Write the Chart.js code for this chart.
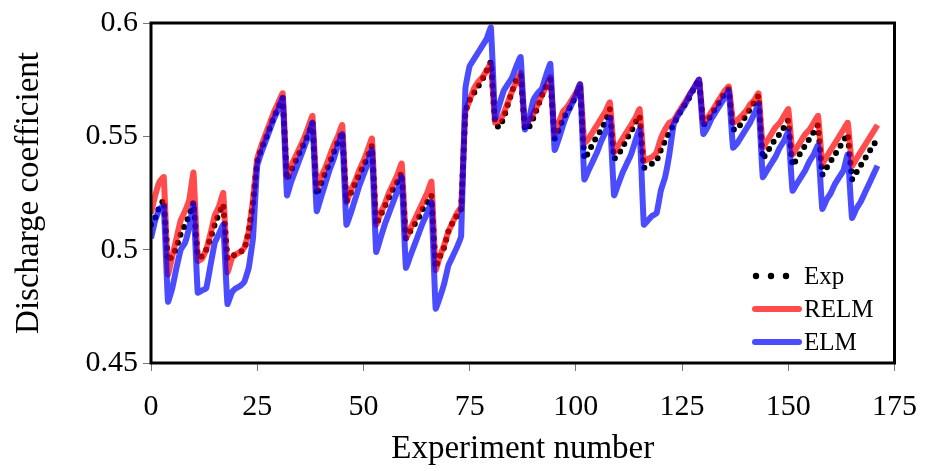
<!DOCTYPE html>
<html>
<head>
<meta charset="utf-8">
<script src="https://cdn.jsdelivr.net/npm/chart.js@4.4.1/dist/chart.umd.min.js"></script>
<style>
  html, body { margin: 0; padding: 0; background: #fff; }
  #wrap { width: 935px; height: 471px; }
</style>
</head>
<body>
<div id="wrap"><canvas id="myChart"></canvas></div>
<script>
// experiment index 0..171
const experiments = Array.from({ length: 172 }, (_, i) => i);

const expValues = [
  0.511, 0.514, 0.519, 0.522,
  0.495, 0.497, 0.501, 0.507, 0.511, 0.515, 0.521,
  0.497, 0.497, 0.500, 0.505, 0.511, 0.516, 0.520,
  0.496, 0.497, 0.498, 0.499, 0.500, 0.508, 0.521,
  0.539, 0.545, 0.549, 0.554, 0.559, 0.563, 0.567,
  0.531, 0.535, 0.539, 0.543, 0.547, 0.551, 0.556,
  0.524, 0.529, 0.534, 0.538, 0.543, 0.548, 0.552,
  0.521, 0.525, 0.529, 0.533, 0.537, 0.541, 0.546,
  0.511, 0.515, 0.519, 0.523, 0.527, 0.530, 0.534,
  0.505, 0.508, 0.511, 0.514, 0.518, 0.521, 0.524,
  0.492, 0.497, 0.501, 0.508, 0.512, 0.515, 0.518,
  0.561, 0.566, 0.569, 0.572, 0.575, 0.579, 0.583,
  0.555, 0.554, 0.558, 0.564, 0.570, 0.575, 0.577,
  0.553, 0.554, 0.558, 0.563, 0.568, 0.572, 0.575,
  0.549, 0.553, 0.558, 0.561, 0.564, 0.568, 0.572,
  0.540, 0.543, 0.547, 0.550, 0.553, 0.557, 0.562,
  0.540, 0.542, 0.545, 0.549, 0.552, 0.556, 0.559,
  0.536, 0.537, 0.538, 0.539, 0.544, 0.548, 0.552,
  0.555, 0.559, 0.562, 0.565, 0.568, 0.572, 0.575,
  0.555, 0.557, 0.560, 0.563, 0.566, 0.569, 0.571,
  0.553, 0.553, 0.556, 0.559, 0.562, 0.565, 0.568,
  0.540, 0.543, 0.546, 0.549, 0.551, 0.554, 0.557,
  0.537, 0.540, 0.543, 0.546, 0.549, 0.552, 0.555,
  0.533, 0.536, 0.539, 0.542, 0.545, 0.548, 0.551,
  0.531, 0.534, 0.537, 0.540, 0.543, 0.546, 0.549
];

const relmValues = [
  0.516, 0.524, 0.530, 0.532,
  0.489, 0.497, 0.505, 0.513, 0.517, 0.522, 0.534,
  0.495, 0.496, 0.500, 0.507, 0.515, 0.519, 0.525,
  0.490, 0.496, 0.498, 0.499, 0.501, 0.508, 0.522,
  0.540, 0.546, 0.551, 0.556, 0.561, 0.565, 0.569,
  0.532, 0.537, 0.541, 0.545, 0.549, 0.554, 0.559,
  0.527, 0.532, 0.536, 0.541, 0.546, 0.550, 0.555,
  0.521, 0.526, 0.530, 0.535, 0.539, 0.544, 0.549,
  0.511, 0.516, 0.520, 0.525, 0.529, 0.533, 0.538,
  0.505, 0.509, 0.513, 0.517, 0.521, 0.525, 0.530,
  0.491, 0.497, 0.502, 0.508, 0.512, 0.516, 0.519,
  0.561, 0.566, 0.571, 0.574, 0.576, 0.579, 0.582,
  0.556, 0.557, 0.560, 0.565, 0.570, 0.574, 0.578,
  0.555, 0.557, 0.560, 0.564, 0.568, 0.572, 0.576,
  0.551, 0.556, 0.561, 0.563, 0.566, 0.569, 0.573,
  0.547, 0.549, 0.552, 0.555, 0.558, 0.561, 0.565,
  0.543, 0.546, 0.549, 0.552, 0.555, 0.558, 0.562,
  0.539, 0.540, 0.541, 0.543, 0.549, 0.553, 0.556,
  0.557, 0.560, 0.563, 0.566, 0.569, 0.572, 0.575,
  0.556, 0.558, 0.561, 0.564, 0.567, 0.570, 0.572,
  0.556, 0.557, 0.559, 0.561, 0.564, 0.566, 0.569,
  0.545, 0.548, 0.551, 0.554, 0.556, 0.559, 0.562,
  0.542, 0.545, 0.548, 0.551, 0.553, 0.556, 0.559,
  0.538, 0.541, 0.544, 0.547, 0.550, 0.553, 0.556,
  0.537, 0.540, 0.543, 0.546, 0.549, 0.552, 0.555
];

const elmValues = [
  0.505, 0.513, 0.518, 0.519,
  0.477, 0.483, 0.492, 0.500, 0.503, 0.510, 0.520,
  0.481, 0.482, 0.483, 0.493, 0.503, 0.507, 0.511,
  0.476, 0.481, 0.483, 0.484, 0.486, 0.492, 0.505,
  0.537, 0.543, 0.548, 0.553, 0.558, 0.562, 0.567,
  0.524, 0.530, 0.535, 0.540, 0.545, 0.550, 0.556,
  0.517, 0.523, 0.529, 0.535, 0.540, 0.546, 0.551,
  0.511, 0.516, 0.522, 0.528, 0.533, 0.538, 0.544,
  0.499, 0.505, 0.511, 0.516, 0.521, 0.526, 0.532,
  0.492, 0.497, 0.502, 0.507, 0.512, 0.516, 0.521,
  0.474, 0.479, 0.485, 0.493, 0.497, 0.501, 0.506,
  0.571, 0.581, 0.584, 0.587, 0.590, 0.593, 0.598,
  0.558, 0.564, 0.570, 0.573, 0.576, 0.581, 0.585,
  0.553, 0.558, 0.566, 0.569, 0.571, 0.577, 0.582,
  0.544, 0.549, 0.555, 0.560, 0.564, 0.568, 0.573,
  0.531, 0.535, 0.539, 0.543, 0.548, 0.552, 0.558,
  0.524, 0.529, 0.534, 0.538, 0.542, 0.548, 0.553,
  0.511, 0.513, 0.515, 0.516, 0.526, 0.532, 0.542,
  0.555, 0.559, 0.562, 0.565, 0.569, 0.572, 0.575,
  0.551, 0.554, 0.558, 0.561, 0.564, 0.567, 0.570,
  0.545, 0.547, 0.550, 0.553, 0.556, 0.560, 0.564,
  0.532, 0.535, 0.538, 0.541, 0.545, 0.548, 0.552,
  0.526, 0.529, 0.532, 0.535, 0.539, 0.542, 0.546,
  0.518, 0.522, 0.525, 0.529, 0.532, 0.535, 0.542,
  0.514, 0.518, 0.521, 0.525, 0.529, 0.533, 0.537
];

const xTicks = [0, 25, 50, 75, 100, 125, 150, 175];
const yTicks = [0.45, 0.5, 0.55, 0.6];

const serif = "'Liberation Serif', 'Times New Roman', serif";

const toPoints = (vals) => vals.map((v, i) => ({ x: experiments[i], y: v }));

// thick box round the plot area
const frame = {
  id: 'frame',
  afterDraw(chart) {
    const { ctx, chartArea: a } = chart;
    ctx.save();
    ctx.strokeStyle = '#000';
    ctx.lineWidth = 3;
    ctx.strokeRect(a.left, a.top, a.right - a.left, a.bottom - a.top);
    ctx.restore();
  }
};

// legend sits inside the plot, bottom right
const innerLegend = {
  id: 'innerLegend',
  afterDraw(chart) {
    const { ctx } = chart;
    const x0 = 755, x1 = 799, rows = [276, 309, 342];
    ctx.save();
    chart.data.datasets.forEach((ds, i) => {
      const y = rows[i];
      if (ds.borderDash) {
        ctx.fillStyle = ds.borderColor;
        [756, 771, 786].forEach(cx => {
          ctx.beginPath();
          ctx.arc(cx, y, 3.2, 0, Math.PI * 2);
          ctx.fill();
        });
      } else {
        ctx.beginPath();
        ctx.strokeStyle = ds.borderColor;
        ctx.lineWidth = ds.borderWidth;
        ctx.lineCap = 'round';
        ctx.moveTo(x0, y); ctx.lineTo(x1, y);
        ctx.stroke();
      }
      ctx.fillStyle = '#000';
      ctx.font = '25px ' + serif;
      ctx.textBaseline = 'middle';
      ctx.fillText(ds.label, 804, y + 1);
    });
    ctx.restore();
  }
};

new Chart(document.getElementById('myChart'), {
  type: 'line',
  data: {
    datasets: [{
      label: 'Exp',
      data: toPoints(expValues),
      borderColor: '#000',
      borderWidth: 6,
      borderDash: [0, 8.5],
      borderCapStyle: 'round',
      pointRadius: 0,
      tension: 0,
      order: 3
    }, {
      label: 'RELM',
      data: toPoints(relmValues),
      borderColor: 'rgba(255,0,0,0.7)',
      borderWidth: 6,
      borderJoinStyle: 'round',
      pointRadius: 0,
      tension: 0.1,
      order: 2
    }, {
      label: 'ELM',
      data: toPoints(elmValues),
      borderColor: 'rgba(0,0,255,0.7)',
      borderWidth: 6,
      borderJoinStyle: 'round',
      pointRadius: 0,
      tension: 0.1,
      order: 1
    }]
  },
  options: {
    responsive: true,
    maintainAspectRatio: false,
    animation: false,
    layout: { padding: { top: 20, right: 38, left: 0, bottom: 0 } },
    plugins: {
      legend: { display: false },
      tooltip: { enabled: false }
    },
    scales: {
      x: {
        type: 'linear',
        min: 0,
        max: 175,
        afterBuildTicks: (s) => { s.ticks = xTicks.map(v => ({ value: v })); },
        afterFit: (s) => { s.height = 108; },
        grid: { drawOnChartArea: false, drawTicks: true, tickLength: 8, tickColor: '#777', tickWidth: 1 },
        border: { display: false },
        ticks: { color: '#000', font: { family: serif, size: 30 }, padding: 18, maxRotation: 0 },
        title: { display: true, text: 'Experiment number', color: '#000', font: { family: serif, size: 33 }, padding: { top: 0, bottom: 2 } }
      },
      y: {
        type: 'linear',
        min: 0.45,
        max: 0.6,
        afterBuildTicks: (s) => { s.ticks = yTicks.map(v => ({ value: v })); },
        afterFit: (s) => { s.width = 151; },
        grid: { drawOnChartArea: false, drawTicks: true, tickLength: 8, tickColor: '#777', tickWidth: 1 },
        border: { display: false },
        ticks: {
          color: '#000', font: { family: serif, size: 30 }, padding: 5,
          callback: (v) => String(+Number(v).toFixed(2))
        },
        title: { display: true, text: 'Discharge coefficient', color: '#000', font: { family: serif, size: 33 }, padding: { top: 10, bottom: 0 } }
      }
    }
  },
  plugins: [frame, innerLegend]
});
</script>
</body>
</html>
